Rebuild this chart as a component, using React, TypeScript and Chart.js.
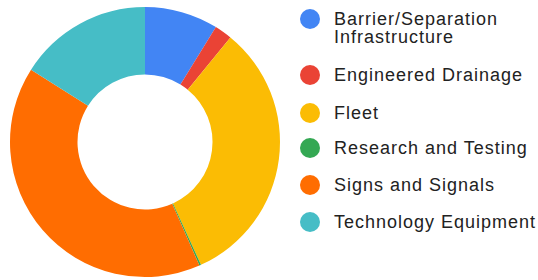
import React, { useEffect, useRef } from "react";
import { Chart, registerables } from "chart.js";

Chart.register(...registerables);

const categories = [
  "Barrier/Separation Infrastructure",
  "Engineered Drainage",
  "Fleet",
  "Research and Testing",
  "Signs and Signals",
  "Technology Equipment",
];
const legendLines = [
  ["Barrier/Separation", "Infrastructure"],
  ["Engineered Drainage"],
  ["Fleet"],
  ["Research and Testing"],
  ["Signs and Signals"],
  ["Technology Equipment"],
];
const values = [8.8, 2.1, 32.3, 0.2, 40.6, 16.0];
const colors = ["#4285F4", "#EA4335", "#FBBC04", "#34A853", "#FF6D01", "#46BDC6"];
const legendCenters = [19, 75, 113, 148, 185, 222];

export default function App() {
  const ref = useRef<HTMLCanvasElement | null>(null);
  useEffect(() => {
    if (!ref.current) return;
    const chart = new Chart(ref.current, {
      type: "doughnut",
      data: {
        labels: categories,
        datasets: [
          {
            data: values,
            backgroundColor: colors,
            borderWidth: 0,
          },
        ],
      },
      options: {
        animation: false,
        responsive: false,
        cutout: "50%",
        layout: { padding: { left: 10, right: 10, top: 7, bottom: 3 } },
        plugins: {
          legend: { display: false },
          tooltip: { enabled: false },
        },
      },
    });
    return () => chart.destroy();
  }, []);

  return (
    <div
      style={{
        position: "absolute",
        left: 0,
        top: 0,
        width: 538,
        height: 280,
        background: "#fff",
        fontFamily: "'Liberation Sans', Arial, sans-serif",
      }}
    >
      <canvas
        ref={ref}
        width={290}
        height={280}
        style={{ position: "absolute", left: 0, top: 0, width: 290, height: 280 }}
      />
      {legendLines.map((lines, i) => (
        <div key={i}>
          <div
            style={{
              position: "absolute",
              left: 300,
              top: legendCenters[i] - 10,
              width: 20,
              height: 20,
              borderRadius: 10,
              background: colors[i],
            }}
          />
          <div
            style={{
              position: "absolute",
              left: 334,
              top: legendCenters[i] - 9,
              fontSize: 18,
              lineHeight: "18px",
              letterSpacing: "1px",
              color: "#222",
              whiteSpace: "nowrap",
            }}
          >
            {lines.map((l, j) => (
              <div key={j}>{l}</div>
            ))}
          </div>
        </div>
      ))}
    </div>
  );
}
